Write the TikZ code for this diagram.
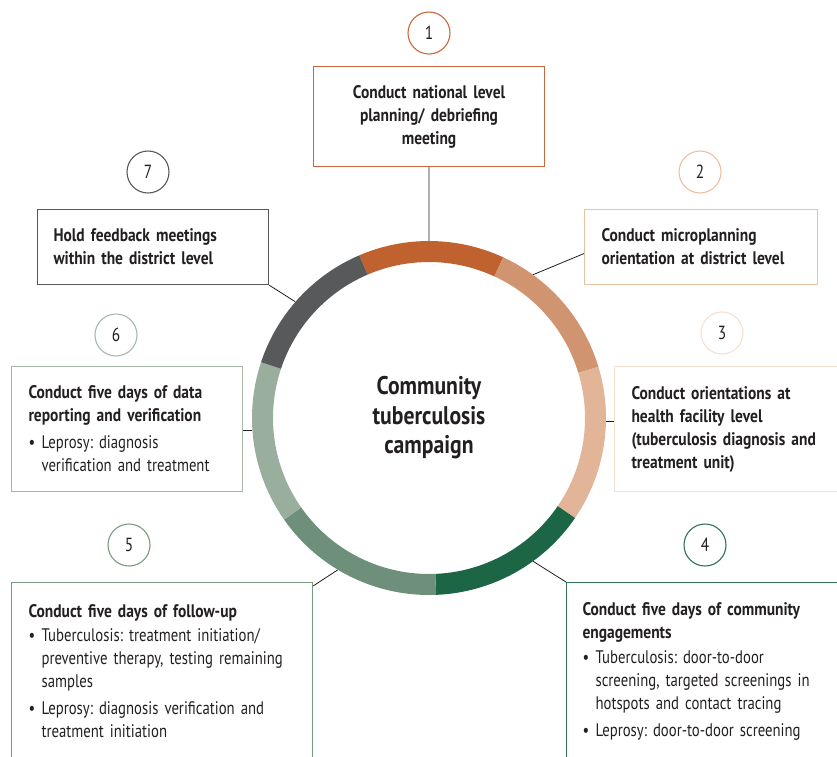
\documentclass[tikz,border=0pt]{standalone}
\usepackage{fontspec}
\setmainfont{PT Sans}[FakeStretch=0.81, BoldFeatures={FakeStretch=0.85}]
\frenchspacing
\definecolor{txt}{HTML}{231F20}
\definecolor{segone}{HTML}{BF6230}
\definecolor{segtwo}{HTML}{D19471}
\definecolor{segthree}{HTML}{E2B598}
\definecolor{segfour}{HTML}{1C6545}
\definecolor{segfive}{HTML}{6E8F79}
\definecolor{segsix}{HTML}{9AAE9E}
\definecolor{segseven}{HTML}{58595B}
\definecolor{lineone}{HTML}{C8683C}
\definecolor{linetwo}{HTML}{EBC0A3}
\definecolor{linethree}{HTML}{F6E0D0}
\definecolor{linefour}{HTML}{2E7352}
\definecolor{linefive}{HTML}{7A9A82}
\definecolor{linesix}{HTML}{A6B8AA}
\definecolor{lineseven}{HTML}{58595B}
% 箇条書きの行
\newcommand{\bul}[2][4pt]{\par\vspace{#1}{\leftskip=13pt\noindent
  \llap{\makebox[13pt][l]{\textbullet}}#2\par}}
% リングの一区間
\newcommand{\ringseg}[3]{\fill[#1] ([shift={(#2:177pt)}]ring.center) arc (#2:#3:177pt)
  -- ([shift={(#3:156pt)}]ring.center) arc (#3:#2:156pt) -- cycle;}
\tikzset{
  stepnum/.style={circle, draw=#1, line width=1.1pt, minimum size=42pt, inner sep=0pt,
    text=txt, font=\fontsize{19}{19}\selectfont},
  stepbox/.style={draw=#1, line width=1.1pt, anchor=north west, inner ysep=0pt, inner xsep=17pt,
    align=left, text=txt, font=\fontsize{18.2}{23}\selectfont},
  link/.style={draw=txt, line width=0.8pt}
}
\begin{document}
\begin{tikzpicture}[x=1pt,y=1pt]
        \useasboundingbox (0,0) rectangle (837,-756);
        % 中央の文字
        \node[circle, minimum size=354pt, inner sep=0pt, align=center, text=txt,
          font=\bfseries\fontsize{25.5}{29.5}\selectfont] (ring) at (429,-418)
          {Community\\tuberculosis\\campaign};
        % 番号の丸
        \node[stepnum=lineone] (c1) at (429,-33) {1};
        \node[stepnum=linetwo] (c2) at (700,-172) {2};
        \node[stepnum=linethree] (c3) at (722,-333) {3};
        \node[stepnum=linefour] (c4) at (705,-545) {4};
        \node[stepnum=linefive] (c5) at (129,-545) {5};
        \node[stepnum=linesix] (c6) at (116,-335) {6};
        \node[stepnum=lineseven] (c7) at (148,-172) {7};
        % 各段階の箱
        \node[stepbox=lineone, align=center, inner xsep=10pt, minimum width=231pt, minimum height=100pt,
          text width=211pt] (b1) at (313,-66)
          {\bfseries Conduct national level\\ planning/ debriefing\\ meeting};
        \node[stepbox=linetwo, minimum width=233pt, minimum height=75pt, text width=199pt] (b2) at (584,-209)
          {\bfseries Conduct microplanning\\ orientation at district level};
        \node[stepbox=linethree, minimum width=240pt, minimum height=125pt, text width=206pt] (b3) at (614,-366)
          {\bfseries Conduct orientations at\\ health facility level\\ (tuberculosis diagnosis and\\ treatment unit)};
        \node[stepbox=linefour, inner xsep=16pt, minimum width=290pt, minimum height=178pt, text width=258pt] (b4) at (566,-582)
          {{\bfseries Conduct five days of community\\ engagements\par}%
           \bul[2pt]{Tuberculosis: door-to-door\\ screening, targeted screenings in\\ hotspots and contact tracing}%
           \bul{Leprosy: door-to-door screening}};
        \node[stepbox=linefive, minimum width=301pt, minimum height=178pt, text width=267pt] (b5) at (11,-582)
          {{\bfseries Conduct five days of follow-up\par}%
           \bul[1pt]{Tuberculosis: treatment initiation/\\ preventive therapy, testing remaining\\ samples}%
           \bul{Leprosy: diagnosis verification and\\ treatment initiation}};
        \node[stepbox=linesix, minimum width=231pt, minimum height=125pt, text width=197pt] (b6) at (11,-366)
          {{\bfseries Conduct five days of data\\ reporting and verification\par}%
           \bul[4pt]{Leprosy: diagnosis\\ verification and treatment}};
        \node[stepbox=lineseven, inner xsep=16pt, minimum width=231pt, minimum height=75pt, text width=199pt] (b7) at (37,-209)
          {\bfseries Hold feedback meetings\\ within the district level};
        % 箱とリングをつなぐ線
        \draw[link] (b1.south) -- (ring.90);
        \draw[link] (ring.54) -- ([yshift=-6.5pt]b2.west);
        \draw[link] (ring.-1) -- (ring.-1 -| b3.west);
        \draw[link] (ring.-54) -- (b4.north west);
        \draw[link] (ring.-121) -- ([yshift=-4pt]b5.north east);
        \draw[link] (ring.184) -- (ring.184 -| b6.east);
        \draw[link] (ring.139) -- (b7.south east);
        % リングの区間
        \ringseg{segone}{65.2}{113.2}
        \ringseg{segtwo}{16.8}{65.2}
        \ringseg{segthree}{-34.4}{16.8}
        \ringseg{segfour}{-87.7}{-34.4}
        \ringseg{segfive}{-145}{-87.7}
        \ringseg{segsix}{161.6}{215}
        \ringseg{segseven}{113.2}{161.6}
      \end{tikzpicture}
\end{document}
